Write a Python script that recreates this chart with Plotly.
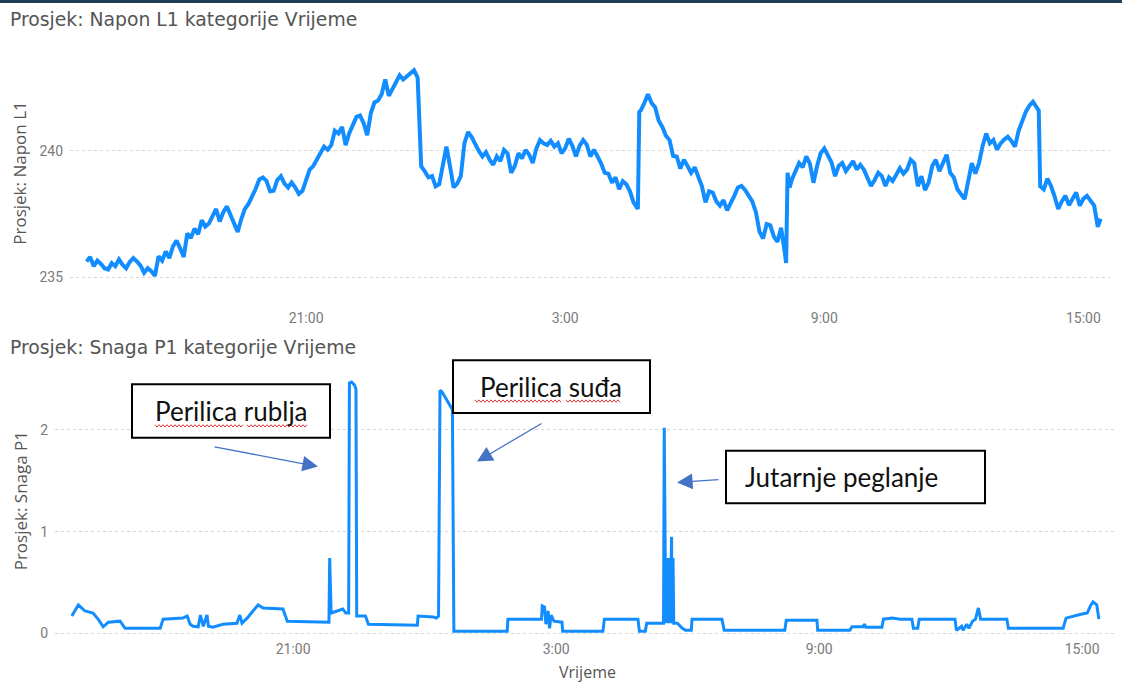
import plotly.graph_objects as go
from datetime import datetime, timedelta

# ---------------- data ----------------
volt_time = [
    "15:55","16:00","16:05","16:10","16:15","16:20","16:25","16:30","16:35","16:40",
    "16:45","16:50","16:55","17:00","17:05","17:10","17:15","17:20","17:25","17:30",
    "17:35","17:40","17:45","17:50","17:55","18:00","18:05","18:10","18:15","18:20",
    "18:25","18:30","18:35","18:40","18:45","18:50","18:55","19:00","19:05","19:10",
    "19:15","19:20","19:25","19:30","19:35","19:40","19:45","19:50","19:55","20:00",
    "20:05","20:10","20:15","20:20","20:25","20:30","20:35","20:40","20:45","20:50",
    "20:55","21:00","21:05","21:10","21:15","21:20","21:25","21:30","21:35","21:40",
    "21:45","21:50","21:55","22:00","22:05","22:10","22:15","22:20","22:25","22:30",
    "22:35","22:40","22:45","22:50","22:55","23:00","23:05","23:10","23:15","23:20",
    "23:25","23:30","23:35","23:38","23:40","23:45","23:50","23:55","00:00","00:05",
    "00:10","00:15","00:20","00:25","00:30","00:35","00:40","00:45","00:50","00:55",
    "01:00","01:05","01:10","01:15","01:20","01:25","01:30","01:35","01:40","01:45",
    "01:50","01:55","02:00","02:05","02:10","02:15","02:20","02:25","02:30","02:35",
    "02:40","02:45","02:50","02:55","03:00","03:05","03:10","03:15","03:20","03:25",
    "03:30","03:35","03:40","03:45","03:50","03:55","04:00","04:05","04:10","04:15",
    "04:20","04:25","04:30","04:35","04:41","04:43","04:45","04:50","04:55","05:00",
    "05:05","05:10","05:15","05:20","05:25","05:30","05:35","05:40","05:45","05:50",
    "05:55","06:00","06:05","06:10","06:15","06:20","06:25","06:30","06:35","06:40",
    "06:45","06:50","06:55","07:00","07:05","07:10","07:15","07:20","07:25","07:30",
    "07:35","07:40","07:45","07:50","07:55","08:00","08:05","08:07","08:09","08:12",
    "08:15","08:20","08:25","08:30","08:35","08:40","08:45","08:50","08:55","09:00",
    "09:05","09:10","09:15","09:20","09:25","09:30","09:35","09:40","09:45","09:50",
    "09:55","10:00","10:05","10:10","10:15","10:20","10:25","10:30","10:35","10:40",
    "10:45","10:50","10:55","11:00","11:05","11:10","11:15","11:20","11:25","11:30",
    "11:35","11:40","11:45","11:50","11:55","12:00","12:05","12:10","12:15","12:20",
    "12:25","12:30","12:35","12:40","12:45","12:50","12:55","13:00","13:05","13:10",
    "13:15","13:20","13:25","13:30","13:35","13:40","13:45","13:50","13:55","13:58",
    "14:00","14:05","14:10","14:15","14:20","14:25","14:30","14:35","14:40","14:45",
    "14:50","14:55","15:00","15:05","15:10","15:15","15:20","15:24"]
volt_l1 = [
    235.62,235.80,235.43,235.65,235.52,235.35,235.30,235.55,235.43,235.70,
    235.49,235.35,235.60,235.75,235.62,235.45,235.17,235.35,235.23,235.05,
    235.82,235.65,236.01,235.75,236.21,236.45,236.14,235.80,236.73,236.55,
    236.92,236.70,237.25,237.00,237.12,237.40,237.70,237.20,237.57,237.80,
    237.44,237.05,236.79,237.30,237.70,237.90,238.16,238.50,238.87,238.95,
    238.81,238.40,238.42,238.85,239.00,238.70,238.55,238.75,238.55,238.30,
    238.42,238.80,239.26,239.40,239.65,239.90,240.17,240.05,240.23,240.80,
    240.69,240.95,240.23,240.70,241.01,241.35,241.40,241.10,240.62,241.50,
    241.92,242.00,242.25,242.83,242.18,242.45,242.77,243.00,242.83,242.95,
    243.09,243.20,242.90,240.30,239.39,239.19,238.95,239.00,238.60,238.68,
    239.50,240.17,239.40,238.55,238.70,239.00,240.30,240.75,240.55,240.23,
    240.00,239.78,239.95,239.65,239.45,239.78,239.60,240.04,239.90,239.13,
    239.40,239.91,239.70,240.04,239.85,239.52,240.10,240.43,240.30,240.23,
    240.40,240.17,240.30,239.91,240.10,240.49,240.20,239.78,240.20,240.43,
    240.25,239.78,240.05,239.78,239.50,239.13,239.10,238.74,238.95,238.48,
    238.80,238.68,238.40,237.96,237.70,241.55,241.60,241.90,242.25,241.90,
    241.73,241.20,240.95,240.60,240.43,239.80,239.78,239.30,239.65,239.40,
    239.13,239.35,239.00,238.60,237.96,238.40,238.35,238.00,237.83,238.05,
    237.64,237.90,238.22,238.55,238.61,238.45,238.22,238.00,237.57,236.80,
    236.53,237.10,237.05,236.60,236.40,236.95,236.00,235.56,239.13,238.55,
    238.87,239.20,239.52,239.35,239.78,239.50,238.74,239.40,239.91,240.10,
    239.78,239.55,239.00,239.40,239.52,239.20,239.39,239.60,239.26,239.45,
    239.26,238.90,238.61,238.85,239.13,239.00,238.61,238.95,238.81,239.05,
    239.32,239.10,239.26,239.65,239.52,238.60,239.00,238.45,238.74,239.40,
    239.65,239.20,239.52,239.85,239.13,238.95,238.48,238.30,238.09,238.80,
    239.52,239.10,239.52,240.20,240.69,240.30,240.43,240.05,240.30,240.45,
    240.56,240.40,240.17,240.80,241.21,241.55,241.79,241.95,241.73,241.60,
    238.60,238.48,238.90,238.61,238.20,237.70,238.00,238.22,237.85,238.09,
    238.35,237.83,238.10,238.22,238.05,237.83,236.99,237.31]

power_time = ["15:57","16:06","16:15","16:26","16:33","16:40","16:47","17:03","17:10","17:58",
              "18:02","18:29","18:35","18:39","18:43","18:50","18:53","18:57","19:02","19:04",
              "19:10","19:24","19:43","19:47","19:50","19:57","20:05","20:12","20:19","20:46",
              "20:52","21:41","21:49","21:50","21:52","22:08","22:12","22:16","22:17","22:20",
              "22:24","22:26","22:27","22:39","22:43","23:50","23:51","00:12","00:16","00:19",
              "00:21","00:24","00:30","00:36","00:38","00:40","01:53","01:54","02:40","02:41",
              "02:44","02:46","02:49","02:51","02:53","02:57","03:08","03:09","04:04","04:06",
              "04:52","04:54","05:02","05:04","05:27","05:28","05:29","05:29:30","05:30","05:30:30",
              "05:31","05:31:30","05:32","05:32:30","05:33","05:33:30","05:34","05:34:30","05:35","05:35:30",
              "05:36","05:36:30","05:37","05:37:30","05:38","05:38:30","05:39","05:39:30","05:40","05:40:30",
              "05:41","05:46","05:52","05:57","06:05","06:06","06:47","06:50","08:13","08:15",
              "08:57","08:58","09:42","09:45","10:00","10:02","10:04","10:26","10:28","10:40",
              "10:51","11:07","11:09","11:15","11:17","12:06","12:08","12:15","12:17","12:22",
              "12:25","12:30","12:34","12:38","12:41","13:17","13:19","14:34","14:38","14:57",
              "15:07","15:12","15:15","15:20","15:23"]
power_p1 = [0.17,0.28,0.22,0.20,0.14,0.065,0.11,0.12,0.05,0.05,
            0.14,0.15,0.17,0.09,0.07,0.065,0.18,0.07,0.18,0.07,
            0.06,0.09,0.10,0.18,0.10,0.15,0.22,0.28,0.25,0.24,
            0.12,0.11,0.11,0.74,0.20,0.24,0.20,0.20,2.46,2.47,
            2.44,2.40,0.17,0.17,0.09,0.08,0.17,0.16,0.15,0.17,
            2.39,2.37,2.30,2.22,2.20,0.02,0.02,0.14,0.14,0.27,
            0.26,0.09,0.22,0.05,0.18,0.12,0.11,0.02,0.02,0.14,
            0.14,0.02,0.02,0.10,0.10,2.02,0.12,0.72,0.10,0.74,
            0.12,0.70,0.10,0.74,0.12,0.72,0.10,0.74,0.12,0.70,
            0.10,0.74,0.12,0.72,0.95,0.10,0.72,0.12,0.74,0.10,
            0.10,0.10,0.055,0.03,0.03,0.14,0.14,0.03,0.03,0.13,
            0.13,0.03,0.03,0.065,0.065,0.09,0.06,0.06,0.14,0.15,
            0.14,0.14,0.05,0.05,0.14,0.14,0.03,0.07,0.03,0.09,
            0.05,0.12,0.14,0.25,0.14,0.14,0.05,0.05,0.15,0.185,
            0.20,0.28,0.31,0.28,0.14]

x_ticks = ["21:00", "03:00", "09:00", "15:00"]
x_tick_labels = ["21:00", "3:00", "9:00", "15:00"]
volt_ticks = [235, 240]
power_ticks = [0, 1, 2]

notes = ["Perilica rublja", "Perilica suđa", "Jutarnje peglanje"]

# ---------------- helpers ----------------
BASE = datetime(2021, 3, 10)


def parse(t):
    parts = list(map(int, t.split(":")))
    h, m = parts[0], parts[1]
    s = parts[2] if len(parts) > 2 else 0
    return h, m, s


def to_datetimes(times):
    out, day, prev = [], 0, None
    for t in times:
        h, m, s = parse(t)
        if prev is not None and h < prev:
            day += 1
        prev = h
        out.append(BASE + timedelta(days=day, hours=h, minutes=m, seconds=s))
    return out


def tick_dt(t):
    h, m, s = parse(t)
    day = 0 if h >= 16 else 1
    return BASE + timedelta(days=day, hours=h, minutes=m)


W, H = 1122, 687


def fx(p):
    return p / W


def fy(p):
    return 1 - p / H


BLUE = "#118DFF"
GRID = "#d6d6d6"
TICK = "#7a7a7a"
TITLE = "#555555"

fig = go.Figure()
fig.add_trace(go.Scatter(x=to_datetimes(volt_time), y=volt_l1, mode="lines",
                         line=dict(color=BLUE, width=4), xaxis="x", yaxis="y",
                         showlegend=False, hoverinfo="skip"))
fig.add_trace(go.Scatter(x=to_datetimes(power_time), y=power_p1, mode="lines",
                         line=dict(color=BLUE, width=3), xaxis="x2", yaxis="y2",
                         showlegend=False, hoverinfo="skip"))

tickvals = [tick_dt(t) for t in x_ticks]
axis_font = dict(family="Roboto, sans-serif", size=14, color=TICK)

fig.update_layout(
    width=W, height=H,
    margin=dict(l=0, r=0, t=0, b=0),
    paper_bgcolor="white", plot_bgcolor="white",
    xaxis=dict(domain=[fx(70), fx(1110)], anchor="y",
               range=[BASE + timedelta(minutes=15 * 60 + 32), BASE + timedelta(days=1, minutes=15 * 60 + 37)],
               tickvals=tickvals, ticktext=x_tick_labels, showgrid=False, zeroline=False,
               showline=False, ticks="", tickfont=axis_font, ticklabelstandoff=5),
    yaxis=dict(domain=[fy(305), fy(42)], anchor="x", range=[233.98, 244.33],
               tickvals=volt_ticks, showgrid=True, gridcolor=GRID, griddash="dot", gridwidth=1,
               zeroline=False, showline=False, ticks="", tickfont=axis_font, ticklabelstandoff=6),
    xaxis2=dict(domain=[fx(55), fx(1115)], anchor="y2",
                range=[BASE + timedelta(minutes=15 * 60 + 34), BASE + timedelta(days=1, minutes=15 * 60 + 45)],
                tickvals=tickvals, ticktext=x_tick_labels, showgrid=False, zeroline=False,
                showline=False, ticks="", tickfont=axis_font, ticklabelstandoff=3),
    yaxis2=dict(domain=[fy(641), fy(374)], anchor="x2", range=[-0.029, 2.576],
                tickvals=power_ticks, showgrid=True, gridcolor=GRID, griddash="dot", gridwidth=1,
                zeroline=False, showline=False, ticks="", tickfont=axis_font, ticklabelstandoff=6),
)

ann = []
title_font = dict(family="DejaVu Sans, sans-serif", size=18.8, color=TITLE)
ann.append(dict(text="Prosjek: Napon L1 kategorije Vrijeme", x=fx(8), y=fy(20), xref="paper", yref="paper",
                xanchor="left", yanchor="middle", showarrow=False, font=title_font))
ann.append(dict(text="Prosjek: Snaga P1 kategorije Vrijeme", x=fx(8), y=fy(350), xref="paper", yref="paper",
                xanchor="left", yanchor="middle", showarrow=False, font=title_font))
ytitle_font = dict(family="Open Sans, sans-serif", size=17, color=TITLE)
ann.append(dict(text="Prosjek: Napon L1", x=fx(20), y=fy(175), xref="paper", yref="paper", textangle=-90,
                xanchor="center", yanchor="middle", showarrow=False, font=ytitle_font))
ann.append(dict(text="Prosjek: Snaga P1", x=fx(20), y=fy(505), xref="paper", yref="paper", textangle=-90,
                xanchor="center", yanchor="middle", showarrow=False, font=ytitle_font))
ann.append(dict(text="Vrijeme", x=fx(587), y=fy(677), xref="paper", yref="paper",
                xanchor="center", yanchor="middle", showarrow=False,
                font=dict(family="Open Sans, sans-serif", size=16, color=TITLE)))

# callout boxes
boxes = [(132, 387, 330, 441), (453, 363, 650, 416), (726, 454, 985, 507)]
text_pos = [(231, 414, "center"), (551, 390, "center"), (743, 481, "left")]
shapes = []
note_font = dict(family="Lato, sans-serif", size=26, color="#111111")
for (x0, y0, x1, y1), (tx, ty, anchor), label in zip(boxes, text_pos, notes):
    shapes.append(dict(type="rect", xref="paper", yref="paper", x0=fx(x0), x1=fx(x1), y0=fy(y1), y1=fy(y0),
                       line=dict(color="black", width=2), fillcolor="white", layer="above"))
    ann.append(dict(text=label, x=fx(tx), y=fy(ty), xref="paper", yref="paper", xanchor=anchor,
                    yanchor="middle", showarrow=False, font=note_font))

# arrows (tail -> tip) in pixel positions
arrows = [((213, 450), (318, 470)), ((543, 426), (477, 465)), ((720, 483), (677, 486))]
for (tx0, ty0), (hx, hy) in arrows:
    ann.append(dict(text="", x=fx(hx), y=fy(hy), xref="paper", yref="paper", showarrow=True,
                    ax=tx0 - hx, ay=ty0 - hy, axref="pixel", ayref="pixel",
                    arrowhead=2, arrowsize=2.4, arrowwidth=1.3, arrowcolor="#4472C4", standoff=0))


# spell-check wavy underlines
def wave(x0, x1, y):
    pts, x, up = [], x0, True
    while x <= x1:
        pts.append((x, y - 1.2 if up else y + 1.2))
        x += 2
        up = not up
    return "M " + " L ".join(f"{fx(a):.5f},{fy(b):.5f}" for a, b in pts)


for (a, b, y) in [(155, 243, 429), (247, 307, 429), (475, 562, 404), (566, 620, 404)]:
    shapes.append(dict(type="path", xref="paper", yref="paper", path=wave(a, b, y),
                       line=dict(color="#d83b3b", width=1), layer="above"))

# top border line
shapes.append(dict(type="line", xref="paper", yref="paper", x0=0, x1=1, y0=fy(1.5), y1=fy(1.5),
                   line=dict(color="#1f3d54", width=3)))

fig.update_layout(annotations=ann, shapes=shapes)
fig.write_html("out.html", config={"displayModeBar": False},
               post_script="document.body.style.margin='0';document.body.style.overflow='hidden';")
